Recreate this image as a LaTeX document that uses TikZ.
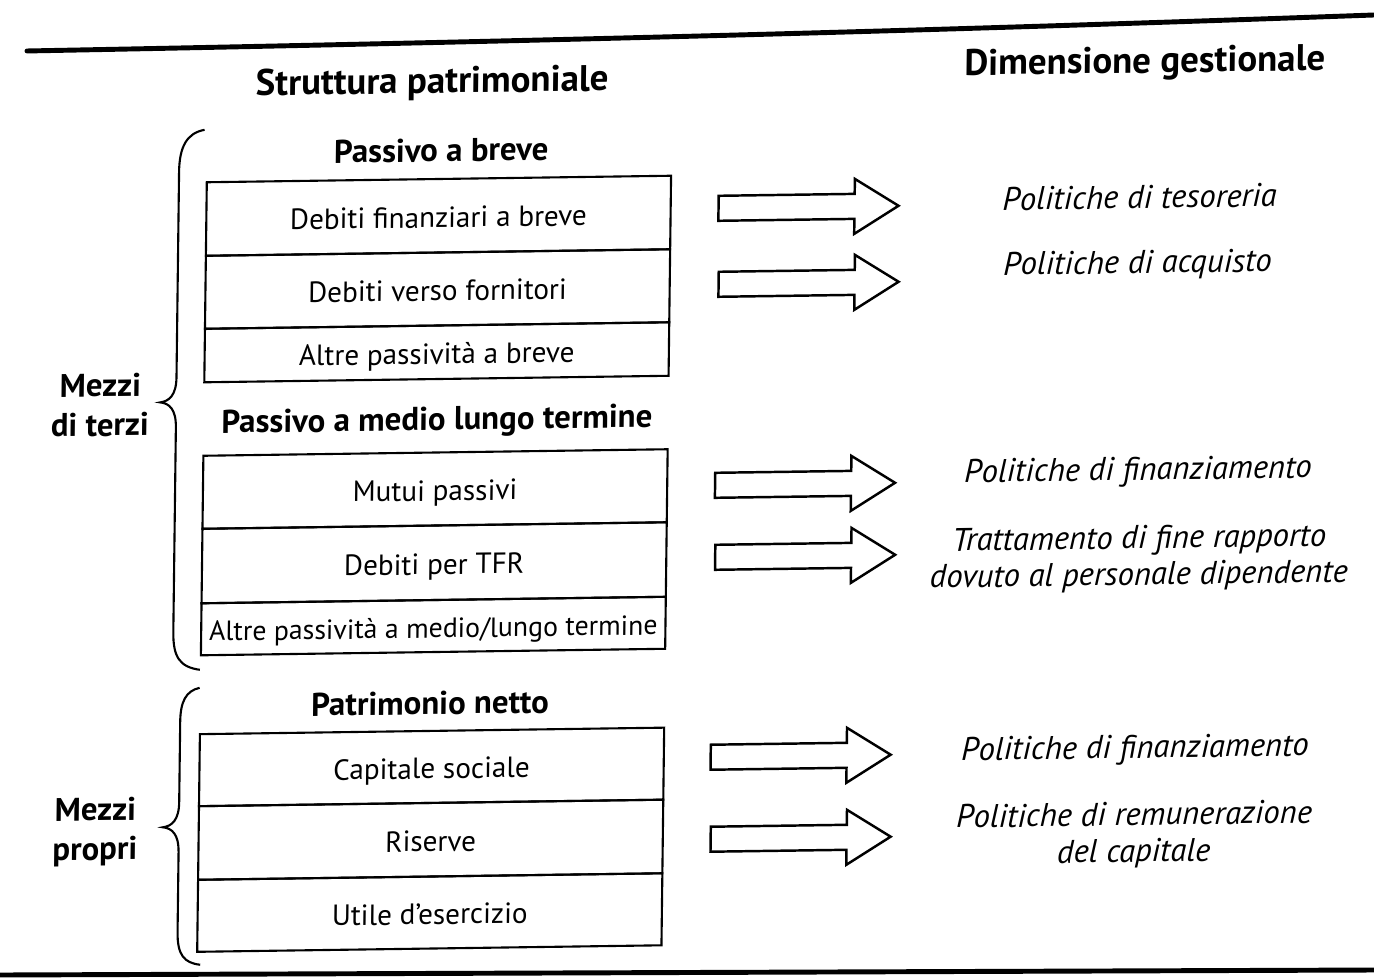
\documentclass[tikz,border=0pt]{standalone}
\usepackage{fontspec}
\setmainfont{PT Sans}
\begin{document}
\begin{tikzpicture}[x=0.01cm,y=-0.01cm,
  rule/.style={line width=1.4pt, line cap=round},
  row/.style={draw, line width=0.6pt, minimum width=4.64cm, inner sep=0pt,
    text height=7.2pt, text depth=0.5pt, font=\fontsize{8.3}{10}\selectfont},
  title/.style={font=\bfseries\fontsize{10.5}{12}\selectfont},
  heading/.style={font=\bfseries\fontsize{9.35}{11}\selectfont},
  side/.style={font=\bfseries\fontsize{9.3}{11.2}\selectfont, align=center},
  policy/.style={font=\itshape\fontsize{9.3}{10.4}\selectfont, align=center},
  brace/.style={draw, line width=0.6pt},
  arrowline/.style={draw, line width=0.7pt, line join=miter},
  barrow/.pic={\path[arrowline] (0,-12.5) -- (136,-12.5) -- (136,-27.5) -- (180,0)
     -- (136,27.5) -- (136,12.5) -- (0,12.5) -- cycle;}
]
\useasboundingbox (0,0) rectangle (1374,980);

% page rules
\draw[rule] (27,51) .. controls (500,42) and (900,32) .. (1374,15);
\draw[rule] (0,975) -- (1374,970);

\begin{scope}[shift={(687,490)}, cm={1,0.014,0.0125,1,(0,0)}, shift={(-687,-490)}, transform shape]
  % column titles
  \node[title] (t1) at (427,80) {Struttura patrimoniale};
  \node[title] (t2) at (1139.6,70) {Dimensione gestionale};

  % passivo a breve
  \node[heading] (h1) at (437,146.6) {Passivo a breve};
  \node[row, minimum height=0.735cm] (r1) at (435,212.25) {Debiti finanziari a breve};
  \node[row, minimum height=0.73cm]  (r2) at (435,285.5)  {Debiti verso fornitori};
  \node[row, minimum height=0.535cm] (r3) at (435,348.75) {Altre passività a breve};

  % passivo a medio lungo termine
  \node[heading] (h2) at (436,418.5) {Passivo a medio lungo termine};
  \node[row, minimum height=0.73cm]  (r4) at (435,485.5)  {Mutui passivi};
  \node[row, minimum height=0.745cm] (r5) at (435,559.25) {Debiti per TFR};
  \node[row, minimum height=0.52cm, font=\fontsize{7.9}{9.5}\selectfont]  (r6) at (435,622.5)  {Altre passività a medio/lungo termine};

  % patrimonio netto
  \node[heading] (h3) at (432.7,699.4) {Patrimonio netto};
  \node[row, minimum height=0.72cm]  (r7) at (435,763.4) {Capitale sociale};
  \node[row, minimum height=0.736cm] (r8) at (435,836.2) {Riserve};
  \node[row, minimum height=0.72cm]  (r9) at (435,909)   {Utile d’esercizio};

  % braces
  \path[brace] (200,123) .. controls (182,126) and (175,140) .. (175,165) -- (175,370)
     .. controls (175,388) and (168,394) .. (159,395)
     .. controls (168,396) and (175,402) .. (175,420) -- (175,625)
     .. controls (175,650) and (182,660) .. (202,663);
  \path[brace] (202,681) .. controls (188,684) and (183,695) .. (183,715) -- (183,795)
     .. controls (183,813) and (176,819) .. (167,820)
     .. controls (176,821) and (183,827) .. (183,845) -- (183,925)
     .. controls (183,948) and (190,956) .. (206,958);

  \node[side] (s1) at (99,396.8) {Mezzi\\di terzi};
  \node[side] (s2) at (99.3,823.7) {Mezzi\\propri};

  % block arrows
  \pic (a1) at (715,208.7) {barrow};
  \pic (a2) at (716,284.7) {barrow};
  \pic (a3) at (715,485.7) {barrow};
  \pic (a4) at (716,557.7) {barrow};
  \pic (a5) at (714,757.6) {barrow};
  \pic (a6) at (715,839.6) {barrow};

  % policies
  \node[policy] (p1) at (1136,203.3) {Politiche di tesoreria};
  \node[policy] (p2) at (1134.7,271.3) {Politiche di acquisto};
  \node[policy] (p3) at (1137.8,478.3) {Politiche di finanziamento};
  \node[policy] (p4) at (1139.9,564.8) {Trattamento di fine rapporto\\dovuto al personale dipendente};
  \node[policy] (p5) at (1138.3,756.3) {Politiche di finanziamento};
  \node[policy] (p6) at (1138.3,841.7) {Politiche di remunerazione\\del capitale};
\end{scope}
\end{tikzpicture}
\end{document}
